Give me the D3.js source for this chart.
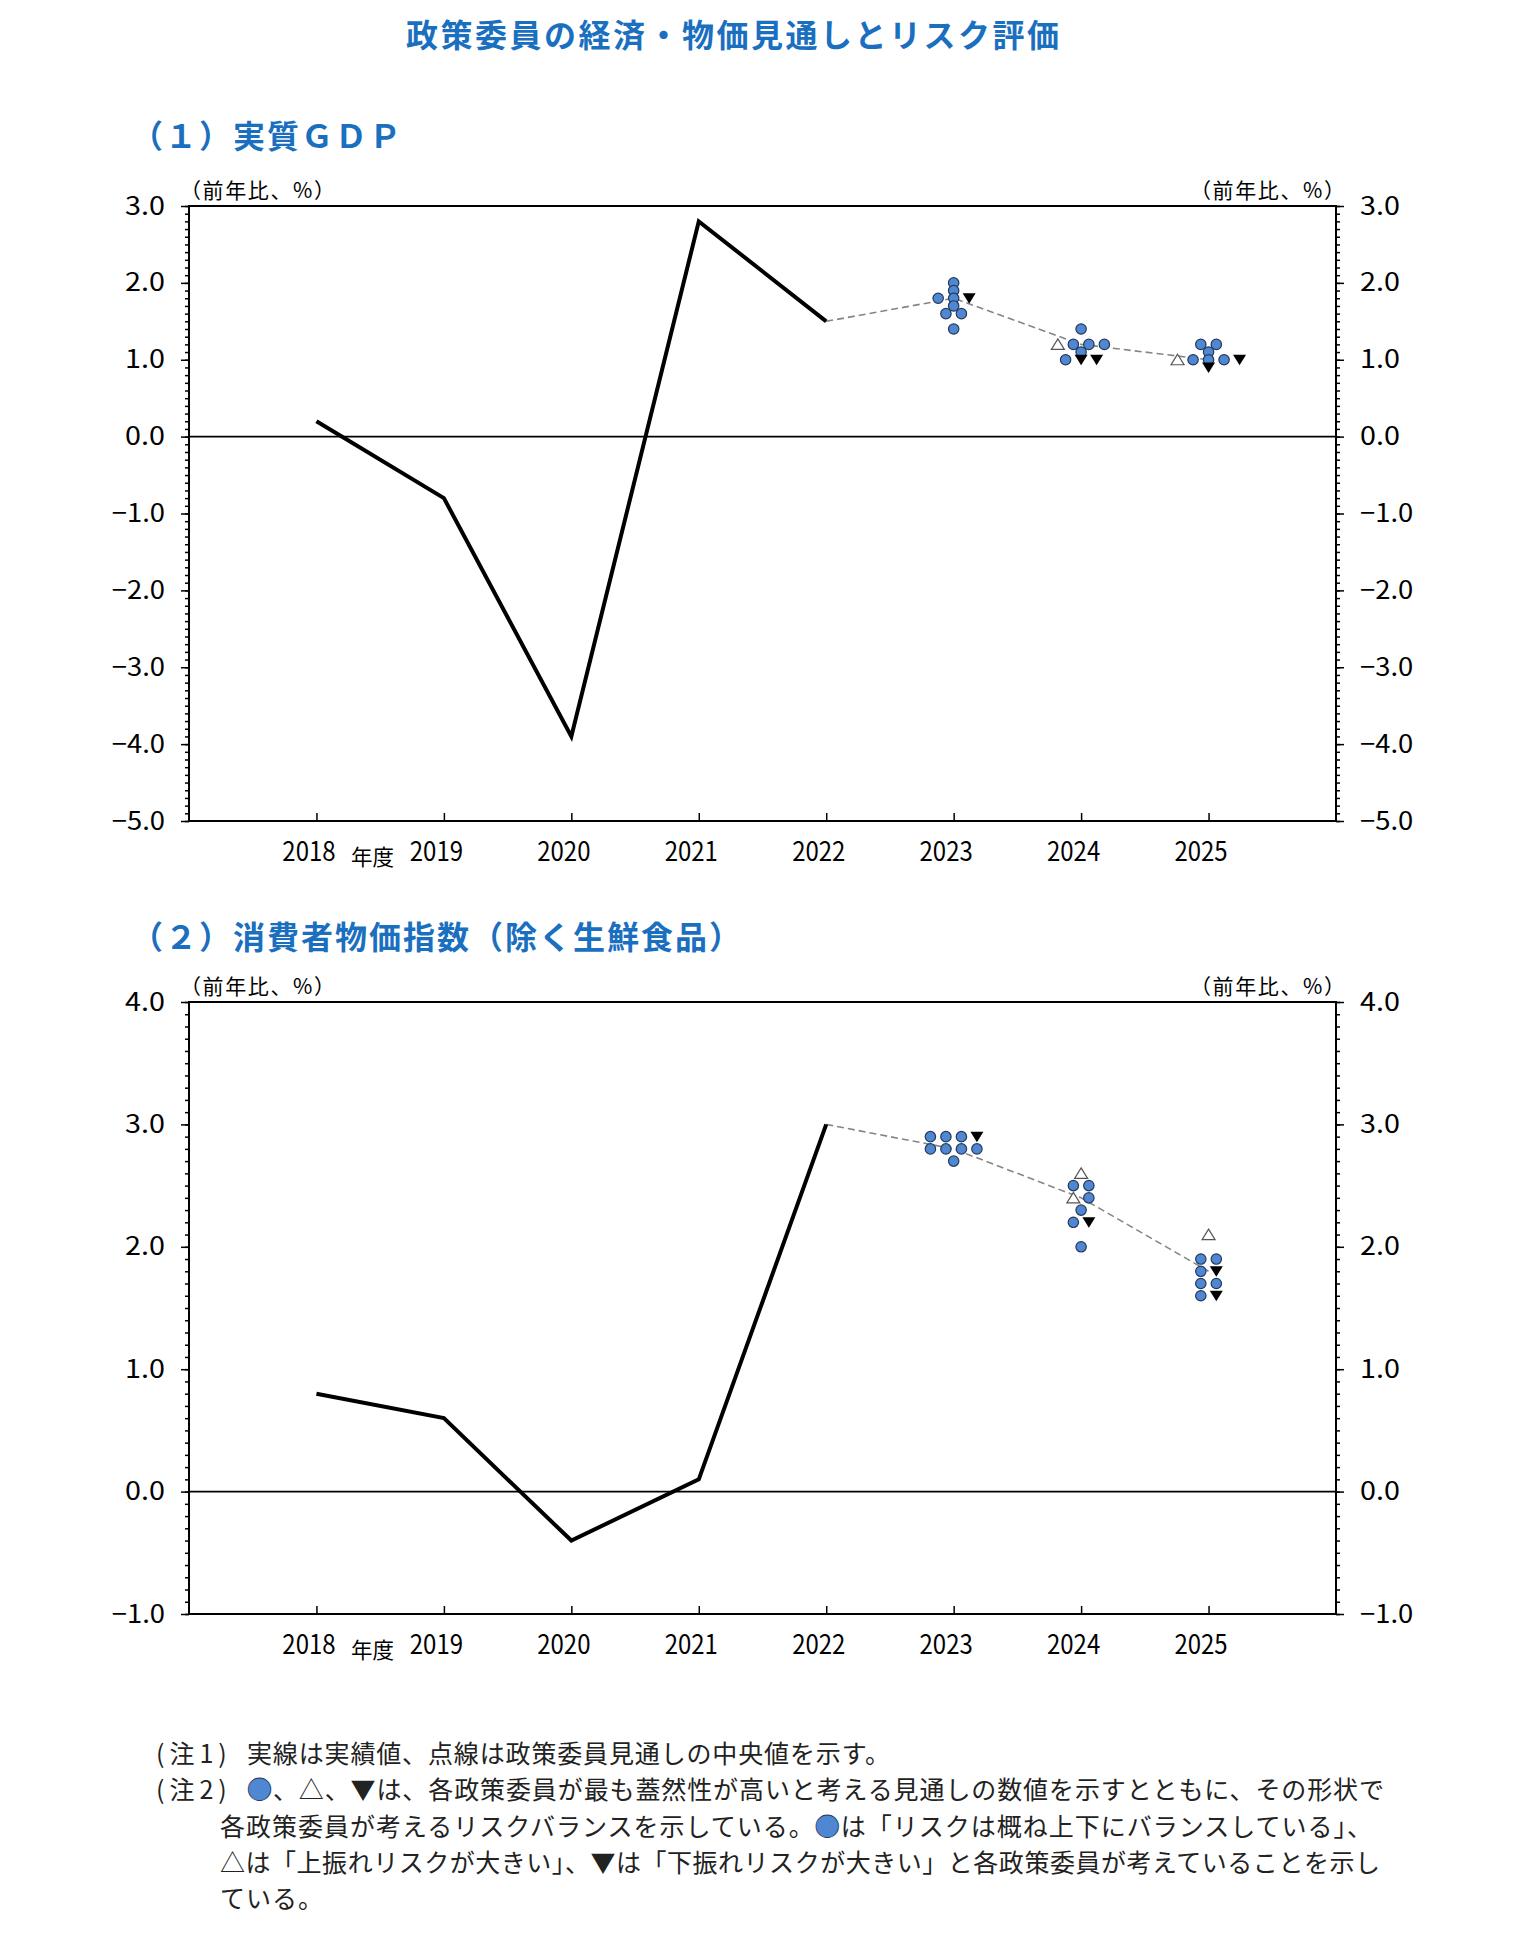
<!DOCTYPE html>
<html lang="ja">
<head>
<meta charset="utf-8">
<script src="https://cdn.jsdelivr.net/npm/d3@7"></script>
<style>
  body { margin: 0; background: #fff; }
  svg text { font-family: "Noto Sans CJK JP", "Noto Sans", sans-serif; }
</style>
</head>
<body>
<div id="chart"></div>
<script>
// fiscal years on the x axis
const years = [2018, 2019, 2020, 2021, 2022, 2023, 2024, 2025];
const actualYears = [2018, 2019, 2020, 2021, 2022];
const forecastYears = [2022, 2023, 2024, 2025];

// real GDP, y/y %
const gdpActual = [0.2, -0.8, -3.9, 2.8, 1.5];
const gdpMedian = [1.5, 1.8, 1.2, 1.0];
const gdpTicks = [-5, -4, -3, -2, -1, 0, 1, 2, 3];

// core CPI (less fresh food), y/y %
const cpiActual = [0.8, 0.6, -0.4, 0.1, 3.0];
const cpiMedian = [3.0, 2.8, 2.4, 1.8];
const cpiTicks = [-1, 0, 1, 2, 3, 4];

// board members' forecasts: [value, risk]  c = balanced, u = skewed up, d = skewed down
const gdpBoard2023 = [[2.0,"c"],[1.9,"c"],[1.8,"c"],[1.8,"c"],[1.8,"d"],[1.7,"c"],[1.6,"c"],[1.6,"c"],[1.4,"c"]];
const gdpBoard2024 = [[1.4,"c"],[1.2,"u"],[1.2,"c"],[1.2,"c"],[1.2,"c"],[1.1,"c"],[1.0,"c"],[1.0,"d"],[1.0,"d"]];
const gdpBoard2025 = [[1.2,"c"],[1.2,"c"],[1.1,"c"],[1.0,"u"],[1.0,"c"],[1.0,"c"],[1.0,"c"],[1.0,"d"],[0.9,"d"]];
const cpiBoard2023 = [[2.9,"c"],[2.9,"c"],[2.9,"c"],[2.9,"d"],[2.8,"c"],[2.8,"c"],[2.8,"c"],[2.8,"c"],[2.7,"c"]];
const cpiBoard2024 = [[2.6,"u"],[2.5,"c"],[2.5,"c"],[2.4,"u"],[2.4,"c"],[2.3,"c"],[2.2,"c"],[2.2,"d"],[2.0,"c"]];
const cpiBoard2025 = [[2.1,"u"],[1.9,"c"],[1.9,"c"],[1.8,"c"],[1.8,"d"],[1.7,"c"],[1.7,"c"],[1.6,"c"],[1.6,"d"]];

const title = "政策委員の経済・物価見通しとリスク評価";
const gdpTitle = "（１）実質ＧＤＰ";
const cpiTitle = "（２）消費者物価指数（除く生鮮食品）";
const unitLabel = "（前年比、%）";
const yearUnit = "年度";
const notes = [
  ["(注1)", "実線は実績値、点線は政策委員見通しの中央値を示す。", 644],
  ["(注2)", "●、△、▼は、各政策委員が最も蓋然性が高いと考える見通しの数値を示すとともに、その形状で", 1138],
  ["", "各政策委員が考えるリスクバランスを示している。●は「リスクは概ね上下にバランスしている」、", 0],
  ["", "△は「上振れリスクが大きい」、▼は「下振れリスクが大きい」と各政策委員が考えていることを示し", 1161],
  ["", "ている。", 0]
];

const W = 1534, H = 1942;
const BLUE = "#1a6fbf";
const DOT = "#4f87d3";
const left = 189, right = 1336;

const svg = d3.select("#chart").append("svg")
  .attr("width", W)
  .attr("height", H);

svg.append("text")
  .attr("x", 406).attr("y", 47)
  .attr("fill", BLUE)
  .attr("font-size", 32).attr("font-weight", "bold")
  .attr("letter-spacing", 2.5)
  .text(title);

const x = d3.scaleLinear()
  .domain([years[0] - 1, years[years.length - 1] + 1])
  .range([left, right]);

// put the members sharing a value side by side: up, balanced, down
function layout(board, year){
  const order = {u: 0, c: 1, d: 2};
  const out = [];
  d3.group(board, d => d[0]).forEach(list => {
    const row = list.slice().sort((a, b) => order[a[1]] - order[b[1]]);
    row.forEach((d, i) => out.push({year, value: d[0], risk: d[1], slot: i - (row.length - 1) / 2}));
  });
  return out;
}

function panel(cfg){
  const y = d3.scaleLinear()
    .domain(d3.extent(cfg.ticks))
    .range([cfg.bottom, cfg.top]);

  const g = svg.append("g");

  g.append("text")
    .attr("x", 131).attr("y", cfg.titleY)
    .attr("fill", BLUE)
    .attr("font-size", 32).attr("font-weight", "bold")
    .attr("letter-spacing", 2)
    .text(cfg.title);

  g.append("text")
    .attr("x", 180).attr("y", cfg.top - 8)
    .attr("font-size", 21).attr("letter-spacing", 1.6)
    .text(unitLabel);
  g.append("text")
    .attr("x", 1190).attr("y", cfg.top - 8)
    .attr("font-size", 21).attr("letter-spacing", 1.6)
    .text(unitLabel);

  const fmt = d3.format(".1f");
  const minorCount = (cfg.ticks[cfg.ticks.length - 1] - cfg.ticks[0]) * 10;

  function styleAxis(sel){
    sel.select(".domain").remove();
    sel.selectAll("line").attr("stroke", "#000").attr("stroke-width", 1.5);
    sel.selectAll("text")
      .attr("font-family", "Noto Sans CJK JP")
      .attr("font-size", 25)
      .attr("fill", "#000")
      .attr("textLength", function(){ return this.textContent.length * 13.3; })
      .attr("lengthAdjust", "spacingAndGlyphs");
  }

  g.append("g").attr("transform", `translate(${left},0)`)
    .call(d3.axisLeft(y).ticks(minorCount).tickSize(4).tickFormat(""))
    .call(styleAxis);
  g.append("g").attr("transform", `translate(${left},0)`)
    .call(d3.axisLeft(y).tickValues(cfg.ticks).tickSize(8).tickPadding(16).tickFormat(fmt))
    .call(styleAxis);
  g.append("g").attr("transform", `translate(${right},0)`)
    .call(d3.axisRight(y).ticks(minorCount).tickSize(4).tickFormat(""))
    .call(styleAxis);
  g.append("g").attr("transform", `translate(${right},0)`)
    .call(d3.axisRight(y).tickValues(cfg.ticks).tickSize(8).tickPadding(16).tickFormat(fmt))
    .call(styleAxis);

  const xAxis = g.append("g").attr("transform", `translate(0,${cfg.bottom})`)
    .call(d3.axisBottom(x).tickValues(years).tickSize(-8).tickFormat(d => String(d)))
    .call(styleAxis);
  xAxis.selectAll("text")
    .attr("font-size", 27)
    .attr("x", -8).attr("y", 40).attr("dy", 0);

  g.append("text")
    .attr("x", x(years[0]) + 56).attr("y", cfg.bottom + 44)
    .attr("text-anchor", "middle")
    .attr("font-size", 22)
    .attr("textLength", 43).attr("lengthAdjust", "spacingAndGlyphs")
    .text(yearUnit);

  // zero line
  g.append("line")
    .attr("x1", left).attr("x2", right)
    .attr("y1", y(0)).attr("y2", y(0))
    .attr("stroke", "#000").attr("stroke-width", 1.6);

  // frame
  g.append("rect")
    .attr("x", left).attr("y", cfg.top)
    .attr("width", right - left).attr("height", cfg.bottom - cfg.top)
    .attr("fill", "none").attr("stroke", "#000").attr("stroke-width", 2);

  const line = d3.line()
    .x(d => x(d[0]))
    .y(d => y(d[1]));

  g.append("path")
    .datum(d3.zip(forecastYears, cfg.median))
    .attr("fill", "none")
    .attr("stroke", "#858585")
    .attr("stroke-width", 1.6)
    .attr("stroke-dasharray", "7,4")
    .attr("d", line);

  g.append("path")
    .datum(d3.zip(actualYears, cfg.actual))
    .attr("fill", "none")
    .attr("stroke", "#000")
    .attr("stroke-width", 4)
    .attr("stroke-linejoin", "miter")
    .attr("d", line);

  const marks = cfg.boards.flatMap((b, i) => layout(b, forecastYears[i + 1]));
  const step = 15.5;
  const px = d => x(d.year) + d.slot * step;

  g.selectAll("circle.member")
    .data(marks.filter(d => d.risk === "c"))
    .join("circle")
    .attr("class", "member")
    .attr("cx", px)
    .attr("cy", d => y(d.value))
    .attr("r", 5.2)
    .attr("fill", DOT)
    .attr("stroke", "#24395a")
    .attr("stroke-width", 1.2);

  g.selectAll("path.up")
    .data(marks.filter(d => d.risk === "u"))
    .join("path")
    .attr("class", "up")
    .attr("transform", d => `translate(${px(d)},${y(d.value)})`)
    .attr("d", "M0,-5.5L6.5,5L-6.5,5Z")
    .attr("fill", "#fff")
    .attr("stroke", "#555")
    .attr("stroke-width", 1.2);

  g.selectAll("path.down")
    .data(marks.filter(d => d.risk === "d"))
    .join("path")
    .attr("class", "down")
    .attr("transform", d => `translate(${px(d)},${y(d.value)})`)
    .attr("d", "M-6.5,-5L6.5,-5L0,5.5Z")
    .attr("fill", "#000");
}

panel({
  title: gdpTitle, titleY: 148, top: 206, bottom: 821, ticks: gdpTicks,
  actual: gdpActual, median: gdpMedian,
  boards: [gdpBoard2023, gdpBoard2024, gdpBoard2025]
});

panel({
  title: cpiTitle, titleY: 949, top: 1002, bottom: 1614, ticks: cpiTicks,
  actual: cpiActual, median: cpiMedian,
  boards: [cpiBoard2023, cpiBoard2024, cpiBoard2025]
});

// notes
const noteG = svg.append("g")
  .attr("font-size", 25)
  .attr("fill", "#222");

notes.forEach((n, i) => {
  const yy = 1763 + i * 36.3;
  if (n[0]) {
    noteG.append("text")
      .attr("x", 156).attr("y", yy)
      .attr("letter-spacing", 5)
      .text(n[0]);
  }
  const t = noteG.append("text")
    .attr("x", n[0] ? 247 : 220).attr("y", yy)
    .attr("letter-spacing", 1);
  if (n[2]) t.attr("textLength", n[2]).attr("lengthAdjust", "spacing");
  n[1].split("●").forEach((part, j) => {
    if (j > 0) {
      t.append("tspan")
        .attr("fill", DOT)
        .attr("stroke", "#24395a")
        .attr("stroke-width", 0.8)
        .text("●");
    }
    t.append("tspan").text(part);
  });
});
</script>
</body>
</html>
